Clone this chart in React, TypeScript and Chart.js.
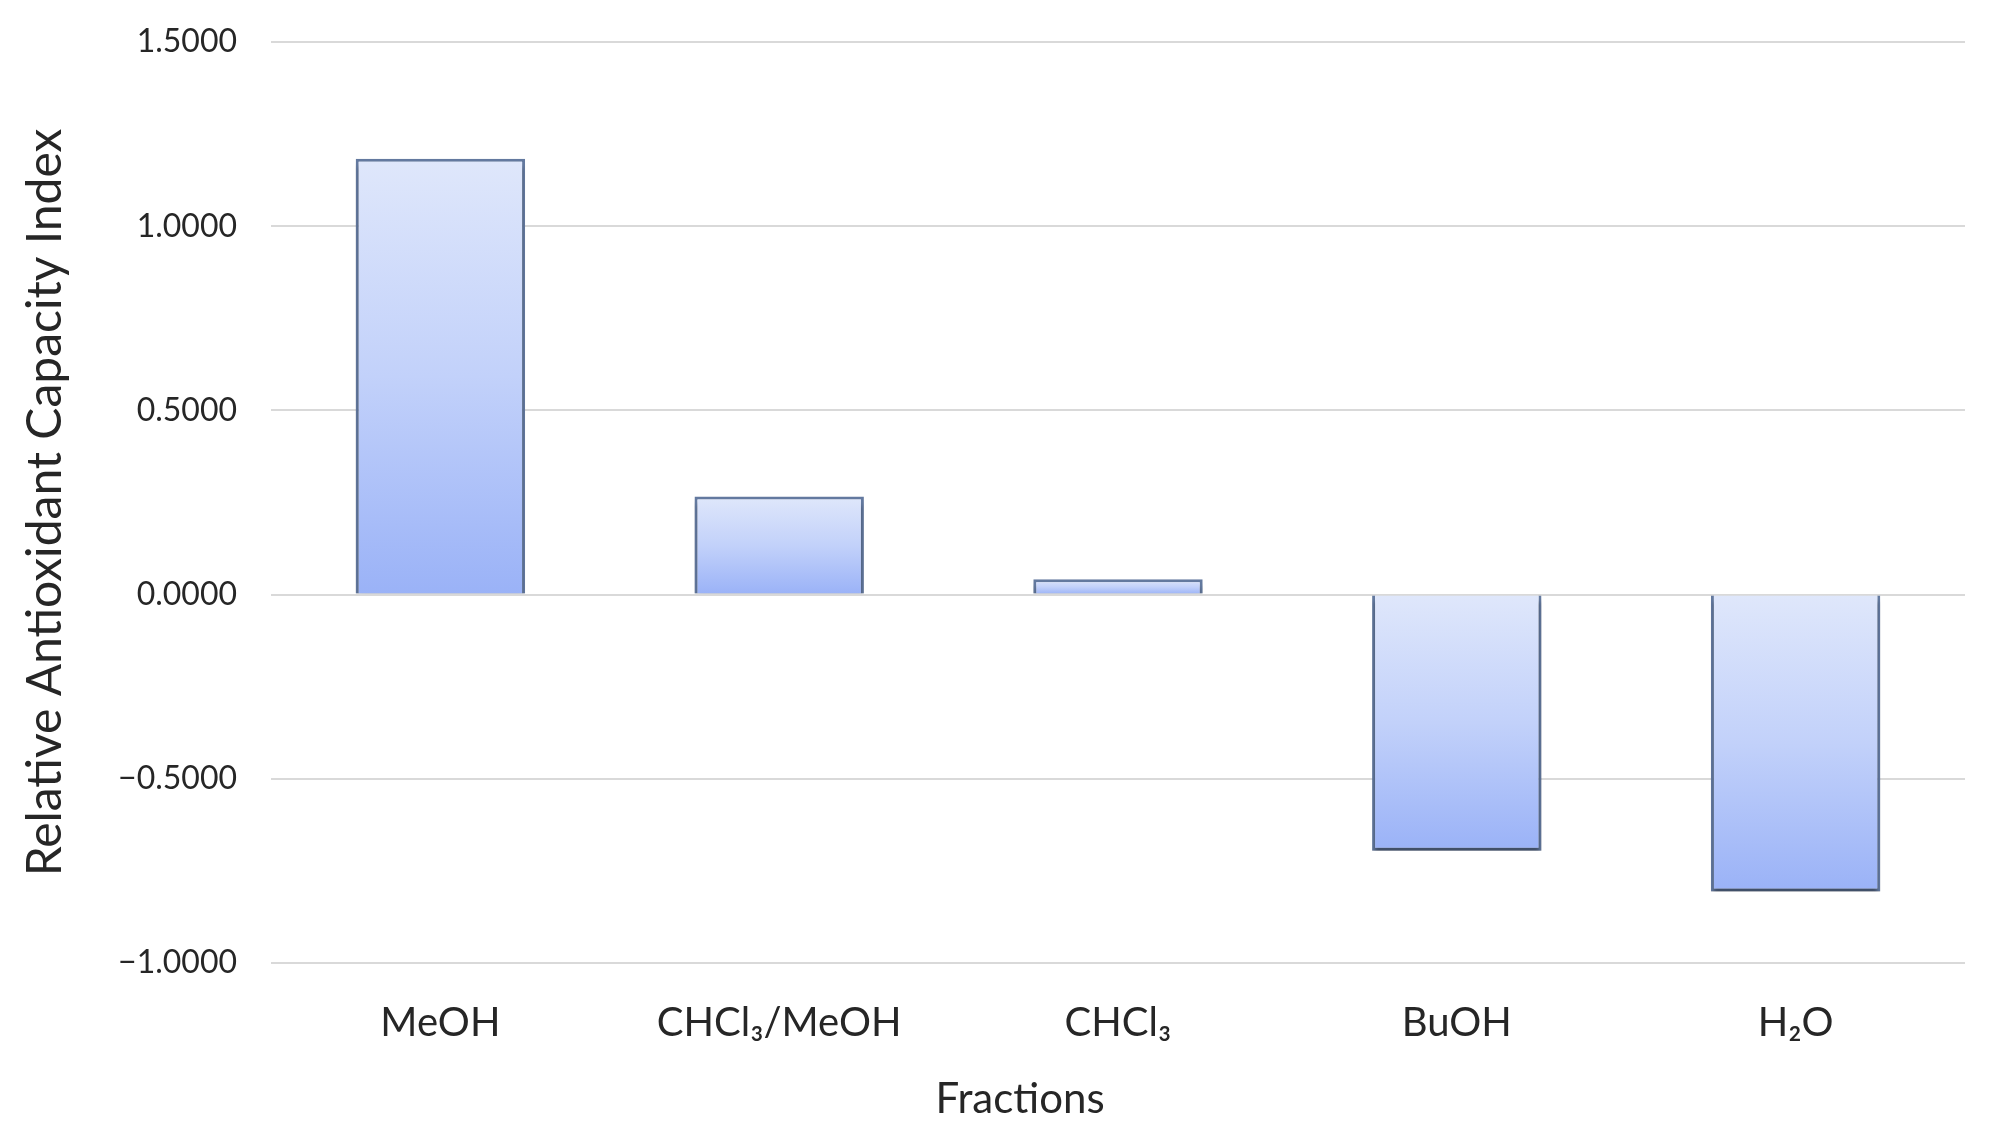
import React, { useEffect, useRef } from "react";
import { Chart, registerables } from "chart.js";

Chart.register(...registerables);

const categories = ["MeOH", "CHCl₃/MeOH", "CHCl₃", "BuOH", "H₂O"];
const values = [1.183, 0.266, 0.042, -0.695, -0.806];
const yTicks = [-1.0, -0.5, 0.0, 0.5, 1.0, 1.5];
const yTitle = "Relative Antioxidant Capacity Index";
const xTitle = "Fractions";

const FONT = "Lato, 'Open Sans', 'DejaVu Sans', sans-serif";
const TEXT = "#262626";

const shadowPlugin = {
  id: "barShadow",
  beforeDatasetsDraw(chart: any) {
    const ctx = chart.ctx;
    ctx.save();
    ctx.shadowColor = "rgba(0,0,0,0.35)";
    ctx.shadowOffsetY = 6;
    ctx.shadowOffsetX = 0;
    ctx.shadowBlur = 4;
  },
  afterDatasetsDraw(chart: any) {
    chart.ctx.restore();
  },
};

// x-axis title, drawn slightly left of the plot-area centre as in the reference
const xTitlePlugin = {
  id: "xTitle",
  afterDraw(chart: any) {
    const { ctx, chartArea } = chart;
    ctx.save();
    ctx.font = `42px ${FONT}`;
    ctx.fillStyle = TEXT;
    ctx.textAlign = "center";
    ctx.textBaseline = "middle";
    const cx = (chartArea.left + chartArea.right) / 2 - 98;
    ctx.fillText(xTitle, cx, chart.height - 33);
    ctx.restore();
  },
};

export default function App() {
  const ref = useRef<HTMLCanvasElement>(null);
  useEffect(() => {
    document.body.style.margin = "0";
    const canvas = ref.current!;
    const chart = new Chart(canvas, {
      type: "bar",
      data: {
        labels: categories,
        datasets: [
          {
            data: values,
            backgroundColor: (c: any) => {
              const ch = c.chart;
              const ys = ch.scales?.y;
              if (!ys || c.raw === undefined) return "#bccdf9";
              const p1 = ys.getPixelForValue(c.raw);
              const p0 = ys.getPixelForValue(0);
              if (!isFinite(p0) || !isFinite(p1)) return "#bccdf9";
              const top = Math.min(p0, p1);
              const bot = Math.max(p0, p1);
              const g = ch.ctx.createLinearGradient(0, top, 0, bot + 0.01);
              g.addColorStop(0, "#dfe7fb");
              g.addColorStop(0.5, "#c2d1fa");
              g.addColorStop(1, "#9ab2f7");
              return g;
            },
            borderColor: "#63799f",
            borderWidth: 3,
            barPercentage: 0.5,
            categoryPercentage: 1.0,
          },
        ],
      },
      options: {
        responsive: false,
        animation: false,
        events: [],
        layout: { padding: { top: 42, right: 29, left: 0, bottom: 0 } },
        plugins: { legend: { display: false }, tooltip: { enabled: false } },
        scales: {
          x: {
            grid: { display: false, drawTicks: false },
            border: { display: false },
            ticks: {
              color: TEXT,
              font: { family: FONT, size: 40 },
              padding: 36,
              maxRotation: 0,
            },
            title: { display: false },
            afterFit(scale: any) {
              scale.height = 169;
            },
          },
          y: {
            min: -1,
            max: 1.5,
            afterBuildTicks(scale: any) {
              scale.ticks = yTicks.map((v) => ({ value: v }));
            },
            grid: { color: "#d9d9d9", lineWidth: 2, drawTicks: false },
            border: { display: false },
            ticks: {
              color: TEXT,
              font: { family: FONT, size: 32 },
              padding: 34,
              callback: (v: any) => {
                const n = Number(v);
                return n < 0 ? "−" + Math.abs(n).toFixed(4) : n.toFixed(4);
              },
            },
            title: {
              display: true,
              text: yTitle,
              color: TEXT,
              font: { family: FONT, size: 48 },
              padding: { top: 17, bottom: 0 },
            },
            afterFit(scale: any) {
              scale.width = 271;
              scale.paddingTop = 20;
              scale.paddingBottom = 20;
            },
          },
        },
      },
      plugins: [shadowPlugin, xTitlePlugin],
    });
    return () => chart.destroy();
  }, []);
  return (
    <div style={{ position: "fixed", left: 0, top: 0, width: 1994, height: 1132, background: "#fff" }}>
      <canvas ref={ref} width={1994} height={1132} style={{ width: 1994, height: 1132, display: "block" }} />
    </div>
  );
}
